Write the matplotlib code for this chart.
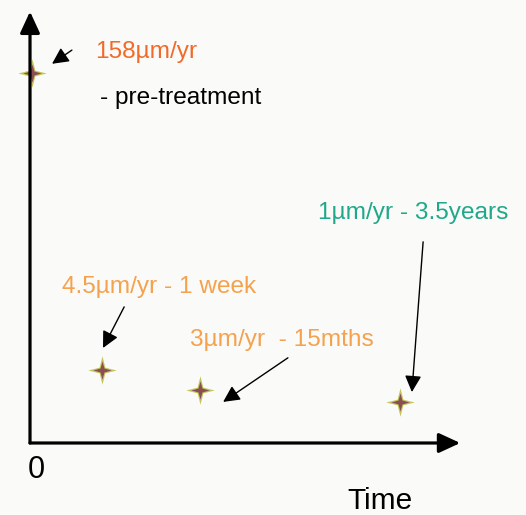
import matplotlib
matplotlib.use('Agg')
import matplotlib.pyplot as plt
from matplotlib.path import Path

# schematic data: wear rate at each time point (positions are not to scale)
rates = [158, 4.5, 3, 1]
labels = ['158µm/yr', '4.5µm/yr - 1 week', '3µm/yr  - 15mths', '1µm/yr - 3.5years']
label_colors = ['#f26a2a', '#f5a24e', '#f5a24e', '#1fa98a']
x_pos = [0.5, 16.7, 39.4, 85.6]   # position along time axis (schematic)
y_pos = [86.4, 17.1, 12.4, 9.6]   # height on rate axis (schematic)

plt.rcParams['font.family'] = ['Liberation Sans', 'DejaVu Sans']


def thin_star(inner=0.16):
    # four-pointed star with narrow arms
    verts = [(0, 1), (inner, inner), (1, 0), (inner, -inner),
             (0, -1), (-inner, -inner), (-1, 0), (-inner, inner), (0, 1)]
    codes = [Path.MOVETO] + [Path.LINETO] * 7 + [Path.CLOSEPOLY]
    return Path(verts, codes)


fig = plt.figure(figsize=(5.26, 5.15), dpi=100, facecolor='#fafaf8')
ax = fig.add_axes([30 / 526, 72 / 515, 432 / 526, 428 / 515])
ax.set_facecolor('#fafaf8')
ax.set_xlim(0, 100)
ax.set_ylim(0, 100)
ax.axis('off')

# axes drawn as thick arrows
axis_arrow = dict(arrowstyle='-|>,head_length=1.3,head_width=0.6', color='black',
                  lw=2.3, shrinkA=0, shrinkB=0)
ax.annotate('', xy=(99.6, 0), xytext=(0, 0), arrowprops=axis_arrow,
            annotation_clip=False, zorder=5)
ax.annotate('', xy=(0, 100.8), xytext=(0, 0), arrowprops=axis_arrow,
            annotation_clip=False, zorder=5)

# four-pointed star markers
ax.scatter(x_pos, y_pos, marker=thin_star(0.2), s=420, color='#c2c65a', lw=0,
           zorder=3, clip_on=False)
ax.scatter(x_pos, y_pos, marker=thin_star(0.22), s=170, color='#8a4f55', lw=0,
           zorder=4, clip_on=False)

# label text positions, arrow tails and tip offsets from each point
text_xy = [(15.0, 91.4), (7.4, 36.4), (37.0, 24.1), (66.7, 53.7)]
tail_xy = [(9.7, 91.8), (21.8, 31.8), (59.7, 19.9), (91.0, 47.0)]
tip_off = [(4.6, 2.2), (0.2, 5.1), (5.3, -2.8), (2.8, 2.3)]

note_arrow = dict(arrowstyle='-|>,head_length=1.0,head_width=0.5', color='black',
                  lw=1.0, shrinkA=0, shrinkB=0)
for i in range(len(rates)):
    ax.text(text_xy[i][0], text_xy[i][1], labels[i], color=label_colors[i],
            fontsize=17.6, ha='left', va='center')
    tip = (x_pos[i] + tip_off[i][0], y_pos[i] + tip_off[i][1])
    ax.annotate('', xy=tip, xytext=tail_xy[i], arrowprops=note_arrow)

ax.text(16.2, 80.6, '- pre-treatment', color='black', fontsize=17.6, ha='left', va='center')

ax.text(-0.5, -6.3, '0', fontsize=22, ha='left', va='center', clip_on=False)
ax.text(73.4, -13.6, 'Time', fontsize=21.5, ha='left', va='center', clip_on=False)

fig.savefig('out.png', dpi=100, facecolor=fig.get_facecolor())
